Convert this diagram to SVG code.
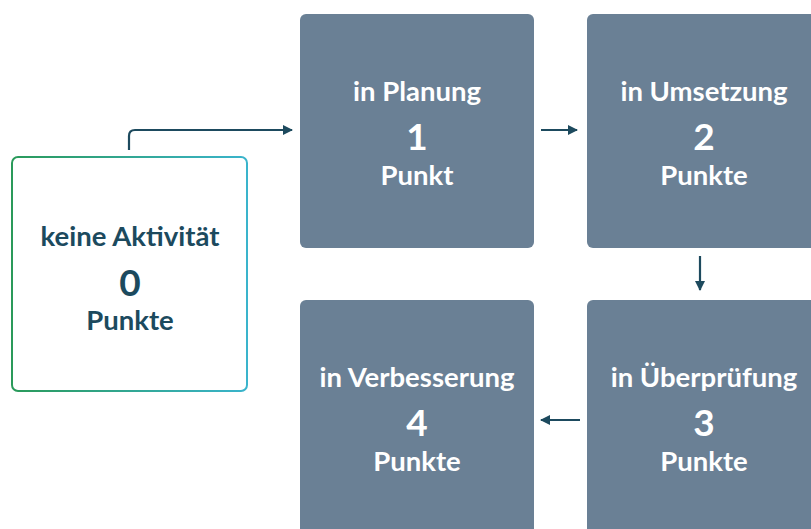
<svg xmlns="http://www.w3.org/2000/svg" width="811" height="529" viewBox="0 0 811 529">
<defs>
<linearGradient id="g0" x1="0" y1="0" x2="1" y2="0">
<stop offset="0" stop-color="#2a9a5a"/>
<stop offset="1" stop-color="#3ab4cc"/>
</linearGradient>
<marker id="ah" viewBox="0 0 10 10" refX="9" refY="5" markerWidth="11" markerHeight="10" markerUnits="userSpaceOnUse" orient="auto">
<path d="M0,0 L10,5 L0,10 z" fill="#1d4a5e"/>
</marker>
<style>
.box{fill:#6a8095;}
.t{font-family:Lato,"Open Sans",sans-serif;font-weight:bold;text-anchor:middle;fill:#ffffff;}
.d{fill:#1c4a5e;}
.lbl{font-size:27.5px;}
.num{font-size:37px;}
.con{fill:none;stroke:#1d4a5e;stroke-width:2.2;}
</style>
</defs>
<rect width="811" height="529" fill="#ffffff"/>
<g id="connectors">
<path class="con" d="M129,150 V136 Q129,130 135,130 H292" marker-end="url(#ah)"/>
<path class="con" d="M541,130 H577" marker-end="url(#ah)"/>
<path class="con" d="M700,256 V290" marker-end="url(#ah)"/>
<path class="con" d="M580,420 H541" marker-end="url(#ah)"/>
</g>
<g id="node0">
<rect x="12" y="157" width="235" height="234" rx="6" fill="#ffffff" stroke="url(#g0)" stroke-width="2"/>
<text class="t d lbl" x="130" y="246">keine Aktivität</text>
<text class="t d num" x="130" y="296">0</text>
<text class="t d lbl" x="130" y="330">Punkte</text>
</g>
<g id="node1">
<rect class="box" x="300" y="14" width="234" height="234" rx="6"/>
<text class="t lbl" x="417" y="101">in Planung</text>
<text class="t num" x="417" y="150">1</text>
<text class="t lbl" x="417" y="185">Punkt</text>
</g>
<g id="node2">
<rect class="box" x="587" y="14" width="234" height="234" rx="6"/>
<text class="t lbl" x="704" y="101">in Umsetzung</text>
<text class="t num" x="704" y="150">2</text>
<text class="t lbl" x="704" y="185">Punkte</text>
</g>
<g id="node3">
<rect class="box" x="587" y="300" width="234" height="234" rx="6"/>
<text class="t lbl" x="704" y="387">in Überprüfung</text>
<text class="t num" x="704" y="436">3</text>
<text class="t lbl" x="704" y="471">Punkte</text>
</g>
<g id="node4">
<rect class="box" x="300" y="300" width="234" height="234" rx="6"/>
<text class="t lbl" x="417" y="387">in Verbesserung</text>
<text class="t num" x="417" y="436">4</text>
<text class="t lbl" x="417" y="471">Punkte</text>
</g>
</svg>
